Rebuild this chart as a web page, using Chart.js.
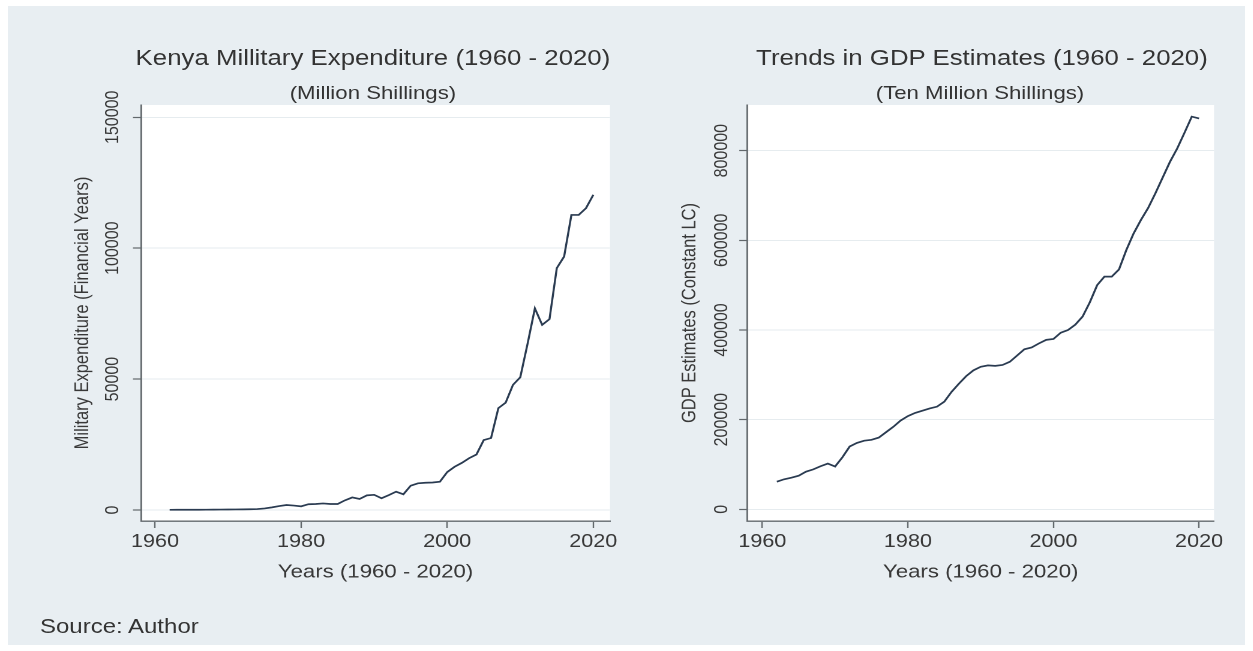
<!DOCTYPE html>
<html>
<head>
<meta charset="utf-8">
<script src="https://cdn.jsdelivr.net/npm/chart.js@4.4.1/dist/chart.umd.min.js"></script>
<style>
  html, body { margin: 0; padding: 0; background: #ffffff; }
  body { width: 1253px; height: 651px; overflow: hidden; position: relative;
         font-family: "Liberation Sans", Arial, sans-serif; }
  #panel { position: absolute; left: 8px; top: 6px; width: 1237px; height: 639px; background: #e8eef2; }
  /* the whole figure is laid out on a narrower stage and widened horizontally */
  #stage { position: absolute; left: 0; top: 0; width: 1045px; height: 651px;
           transform: scaleX(1.2); transform-origin: 0 0; }
  #stage canvas { position: absolute; top: 0; }
  .txt { position: absolute; color: #333333; white-space: nowrap; line-height: 1.2; }
  .ctr { width: 600px; text-align: center; }
</style>
</head>
<body>
<div id="panel"></div>
<div id="stage">
  <div class="txt ctr" style="left:10.8px; top:45.5px; font-size:21.5px;">Kenya Millitary Expenditure (1960 - 2020)</div>
  <div class="txt ctr" style="left:10.8px; top:81.5px; font-size:18.5px;">(Million Shillings)</div>
  <div class="txt ctr" style="left:518.3px; top:45.5px; font-size:21.5px;">Trends in GDP Estimates (1960 - 2020)</div>
  <div class="txt ctr" style="left:516.7px; top:81.5px; font-size:18.5px;">(Ten Million Shillings)</div>
  <div class="txt" style="left:33.3px; top:614px; font-size:20px;">Source: Author</div>
  <canvas id="milChart" width="522" height="651" style="left:0px;"></canvas>
  <canvas id="gdpChart" width="523" height="651" style="left:522px;"></canvas>
</div>

<script>
// Years covered by both series
const years = [
  1962, 1963, 1964, 1965, 1966, 1967, 1968, 1969, 1970, 1971,
  1972, 1973, 1974, 1975, 1976, 1977, 1978, 1979, 1980, 1981,
  1982, 1983, 1984, 1985, 1986, 1987, 1988, 1989, 1990, 1991,
  1992, 1993, 1994, 1995, 1996, 1997, 1998, 1999, 2000, 2001,
  2002, 2003, 2004, 2005, 2006, 2007, 2008, 2009, 2010, 2011,
  2012, 2013, 2014, 2015, 2016, 2017, 2018, 2019, 2020
];

// Military expenditure, million shillings (financial years)
const militaryExpenditure = [
  80, 85, 90, 100, 110, 120, 140, 160, 180, 210,
  250, 290, 350, 600, 1000, 1500, 1900, 1700, 1400, 2200,
  2300, 2500, 2300, 2300, 3700, 4800, 4200, 5600, 5800, 4500,
  5700, 7000, 6000, 9300, 10200, 10400, 10500, 10800, 14500, 16500,
  18000, 19800, 21200, 26700, 27500, 38900, 41000, 47800, 50700, 63500,
  77000, 70700, 72900, 92400, 96800, 112700, 112700, 115300, 120400
];

// GDP estimates, ten million shillings (constant LC)
const gdpEstimates = [
  61600, 67000, 70500, 75000, 84000, 89000, 96000, 102000, 95500, 116000,
  140000, 148000, 153000, 155000, 160000, 172000, 184000, 198000, 208000, 215000,
  220000, 225000, 229000, 240000, 262000, 280000, 297000, 310000, 318000, 321000,
  320000, 322000, 329000, 343000, 357000, 361000, 370000, 378000, 380000, 394000,
  400000, 412000, 430000, 462000, 500000, 519000, 519000, 535000, 578000, 615000,
  645000, 672000, 705000, 740000, 775000, 805000, 840000, 876000, 872000
];

// Axis tick values
const yearTicks = [1960, 1980, 2000, 2020];
const militaryTicks = [0, 50000, 100000, 150000];
const gdpTicks = [0, 200000, 400000, 600000, 800000];

const FONT = '"Liberation Sans", Arial, sans-serif';
const TEXT = '#383838';
const AXIS = '#62686c';
const GRID = '#e6ecef';
const LINE = '#2a3b51';

// white plot region behind the grid and the line
const plotBackground = {
  id: 'plotBackground',
  beforeDraw(chart) {
    const a = chart.chartArea;
    const ctx = chart.ctx;
    ctx.save();
    ctx.fillStyle = '#ffffff';
    ctx.fillRect(a.left, a.top, a.right - a.left, a.bottom - a.top);
    ctx.restore();
  }
};

function buildChart(canvasId, values, yTicks, o) {
  const points = years.map((yr, i) => ({ x: yr, y: values[i] }));
  return new Chart(document.getElementById(canvasId), {
    type: 'line',
    data: {
      datasets: [{
        data: points,
        borderColor: LINE,
        borderWidth: 1.7,
        pointRadius: 0,
        tension: 0,
        fill: false
      }]
    },
    options: {
      responsive: false,
      animation: false,
      devicePixelRatio: 2,
      layout: { padding: { left: 0, right: o.padRight, top: 105, bottom: 0 } },
      plugins: { legend: { display: false }, tooltip: { enabled: false } },
      scales: {
        x: {
          type: 'linear',
          min: o.xMin,
          max: o.xMax,
          afterBuildTicks: s => { s.ticks = yearTicks.map(v => ({ value: v })); },
          afterFit: s => { s.height = 130; },
          ticks: {
            callback: v => String(v),
            font: { family: FONT, size: 18 },
            color: TEXT,
            padding: 3,
            maxRotation: 0,
            autoSkip: false
          },
          grid: { drawOnChartArea: false, drawTicks: true, tickLength: 7, tickColor: AXIS, tickWidth: 1.2 },
          border: { display: true, color: AXIS, width: 1.4 },
          title: {
            display: true,
            text: 'Years (1960 - 2020)',
            font: { family: FONT, size: 18.5 },
            color: TEXT,
            padding: { top: 0, bottom: 67.5 }
          }
        },
        y: {
          type: 'linear',
          min: o.yMin,
          max: o.yMax,
          afterBuildTicks: s => { s.ticks = yTicks.map(v => ({ value: v })); },
          afterFit: s => { s.width = o.yWidth; },
          ticks: {
            callback: v => String(v),
            font: { family: FONT, size: 16 },
            color: TEXT,
            minRotation: 90,
            maxRotation: 90,
            crossAlign: 'center',
            padding: o.yTickPad,
            autoSkip: false
          },
          grid: { color: GRID, lineWidth: 1, drawTicks: true, tickLength: 6.7, tickColor: AXIS, tickWidth: 1.2 },
          border: { display: true, color: AXIS, width: 1.4 },
          title: {
            display: true,
            text: o.yTitle,
            font: { family: FONT, size: 16.5 },
            color: TEXT,
            padding: { top: o.yTitlePad, bottom: 0 }
          }
        }
      }
    },
    plugins: [plotBackground]
  });
}

buildChart('milChart', militaryExpenditure, militaryTicks, {
  xMin: 1958.08, xMax: 2022.28,
  yMin: -4200, yMax: 154700,
  yWidth: 117.5, padRight: 13.7,
  yTickPad: -10, yTitlePad: 58.9,
  yTitle: 'Military Expenditure (Financial Years)'
});

buildChart('gdpChart', gdpEstimates, gdpTicks, {
  xMin: 1957.94, xMax: 2022.06,
  yMin: -26100, yMax: 901900,
  yWidth: 100.75, padRight: 33.3,
  yTickPad: -12, yTitlePad: 43.1,
  yTitle: 'GDP Estimates (Constant LC)'
});
</script>
</body>
</html>
